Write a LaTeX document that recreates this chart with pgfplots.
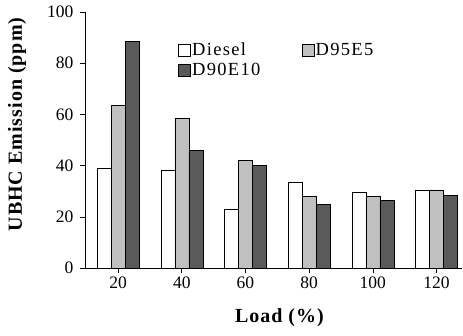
\documentclass[border=0pt]{standalone}
\usepackage{pgfplots}
\pgfplotsset{compat=1.18}
\usepackage{fontspec}
\setmainfont{Liberation Serif}
\definecolor{lgray}{HTML}{C0C0C0}
\definecolor{dgray}{HTML}{5A5A5A}
\begin{document}
\begin{tikzpicture}
\begin{axis}[
  width=377pt, height=256pt, scale only axis,
  ybar=0pt, bar width=14pt,
  xmin=-0.52, xmax=5.4,
  ymin=0, ymax=100,
  axis x line*=bottom, axis y line*=left,
  axis line style={-, black, line width=0.6pt},
  tick align=outside, major tick length=5pt,
  tick style={black, line width=0.6pt},
  xtick=data, xticklabels={20,40,60,80,100,120},
  ytick={0,20,40,60,80,100},
  /pgf/number format/assume math mode=true,
  tick label style={font=\fontsize{17.5}{19}\selectfont},
  yticklabel style={xshift=-3pt},
  xlabel={\textbf{Load (\%)}},
  ylabel={\textbf{UBHC Emission (ppm)}},
  label style={font=\fontsize{20}{22}\selectfont\addfontfeature{LetterSpace=5}},
  xlabel style={at={(axis description cs:0.517,-0.195)}, anchor=center},
  ylabel style={at={(axis description cs:-0.18,0.5625)}, anchor=center},
  legend style={draw=none, fill=none, at={(0.239,0.895)}, anchor=north west,
    font=\fontsize{18.5}{20}\selectfont\addfontfeature{LetterSpace=7}, row sep=3.5pt,
    nodes={inner sep=1.5pt},
    /tikz/every even column/.append style={column sep=40pt}},
  legend columns=2,
  legend image code/.code={\draw[#1, draw=black, line width=0.4pt] (0pt,-6pt) rectangle (12pt,6pt);},
  legend cell align=left,
]
\addplot[fill=white, draw=black, line width=0.5pt] coordinates {(0,39) (1,38) (2,23) (3,33.5) (4,29.5) (5,30.5)};
\addplot[fill=lgray, draw=black, line width=0.5pt] coordinates {(0,63.5) (1,58.5) (2,42) (3,28) (4,28) (5,30.5)};
\addplot[fill=dgray, draw=black, line width=0.5pt] coordinates {(0,88.5) (1,46) (2,40) (3,25) (4,26.5) (5,28.5)};
\legend{Diesel,D95E5,D90E10}
\end{axis}
\pgfresetboundingbox
\path ([shift={(-85pt,-67pt)}]current axis.south west) rectangle ([shift={(378pt,268pt)}]current axis.south west);
\end{tikzpicture}
\end{document}
